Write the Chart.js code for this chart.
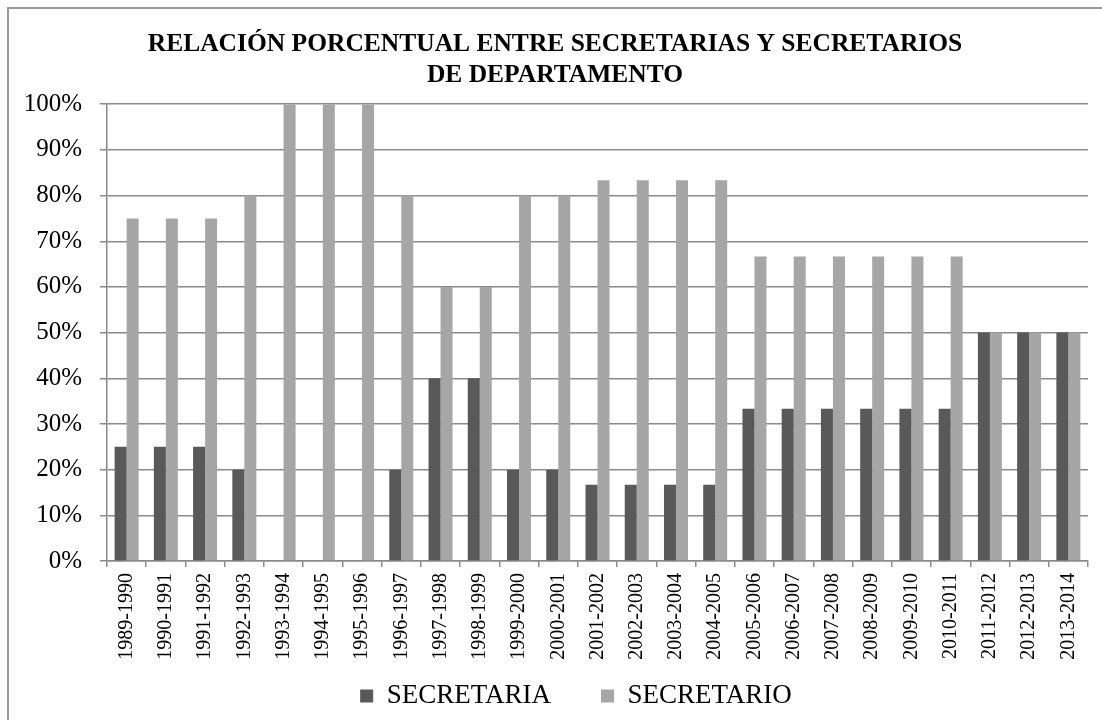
<!DOCTYPE html>
<html>
<head>
<meta charset="utf-8">
<script src="https://cdn.jsdelivr.net/npm/chart.js@4/dist/chart.umd.min.js"></script>
<style>
html,body{margin:0;padding:0;background:#fff;overflow:hidden;}
#wrap{position:relative;width:1102px;height:720px;}
#frame{position:absolute;left:7px;top:7px;width:1200px;height:800px;border:2px solid #9a9a9a;pointer-events:none;}
canvas{position:absolute;left:0;top:0;}
</style>
</head>
<body>
<div id="wrap">
<canvas id="c" width="1102" height="720"></canvas>
<div id="frame"></div>
</div>
<script>
const titleLines = ["RELACIÓN PORCENTUAL ENTRE SECRETARIAS Y SECRETARIOS", "DE DEPARTAMENTO"];
const categories = ["1989-1990","1990-1991","1991-1992","1992-1993","1993-1994","1994-1995","1995-1996","1996-1997","1997-1998","1998-1999","1999-2000","2000-2001","2001-2002","2002-2003","2003-2004","2004-2005","2005-2006","2006-2007","2007-2008","2008-2009","2009-2010","2010-2011","2011-2012","2012-2013","2013-2014"];
const secretaria = [25,25,25,20,0,0,0,20,40,40,20,20,16.67,16.67,16.67,16.67,33.33,33.33,33.33,33.33,33.33,33.33,50,50,50];
const secretario = [75,75,75,80,100,100,100,80,60,60,80,80,83.33,83.33,83.33,83.33,66.67,66.67,66.67,66.67,66.67,66.67,50,50,50];
const seriesNames = ["SECRETARIA","SECRETARIO"];

const FONT = "'Liberation Serif','Times New Roman',serif";
Chart.defaults.font.family = FONT;
Chart.defaults.color = '#000';

const LEG_PAD = 50;
const LEG_FONT = 27;
const layoutTweak = {
  id: 'layoutTweak',
  afterLayout(chart) {
    const lg = chart.legend;
    if (lg) {
      lg.top = 696 - LEG_FONT / 2 - LEG_PAD;
      lg.bottom = 720;
      lg.height = lg.bottom - lg.top;
      lg.left += 32; lg.right += 32;
    }
    const tb = chart.titleBlock;
    if (tb) { tb.left += 11; tb.right += 11; }
  }
};

new Chart(document.getElementById('c'), {
  type: 'bar',
  data: {
    labels: categories,
    datasets: [
      {label: seriesNames[0], data: secretaria, backgroundColor: '#595959', borderWidth: 0, categoryPercentage: 0.612, barPercentage: 1.0},
      {label: seriesNames[1], data: secretario, backgroundColor: '#a6a6a6', borderWidth: 0, categoryPercentage: 0.612, barPercentage: 1.0}
    ]
  },
  plugins: [layoutTweak],
  options: {
    responsive: false,
    animation: false,
    layout: {padding: {left: 0, right: 14, top: 29, bottom: 0}},
    plugins: {
      title: {display: true, text: titleLines, color: '#000', font: {family: FONT, size: 25.5, weight: 'bold', lineHeight: 1.22}, padding: {top: 0, bottom: 13}},
      legend: {position: 'bottom', maxHeight: 55, labels: {boxWidth: 13, boxHeight: 13, color: '#000', font: {family: FONT, size: LEG_FONT}, padding: LEG_PAD}},
      tooltip: {enabled: false}
    },
    scales: {
      x: {
        afterFit: (s) => { s.height = 104; },
        grid: {display: true, drawOnChartArea: false, drawTicks: true, tickLength: 6, offset: true, color: '#8a8a8a', lineWidth: 1.5},
        border: {display: true, color: '#8a8a8a', width: 1.5},
        ticks: {minRotation: 90, maxRotation: 90, autoSkip: false, padding: 6, color: '#000', font: {family: FONT, size: 20}}
      },
      y: {
        min: 0, max: 100,
        afterFit: (s) => { s.width = 107; },
        grid: {color: '#8a8a8a', lineWidth: 1.5, tickLength: 7},
        border: {display: true, color: '#8a8a8a', width: 1.5},
        ticks: {stepSize: 10, padding: 18, color: '#000', font: {family: FONT, size: 25}, callback: (v) => v + '%'}
      }
    }
  }
});
</script>
</body>
</html>
